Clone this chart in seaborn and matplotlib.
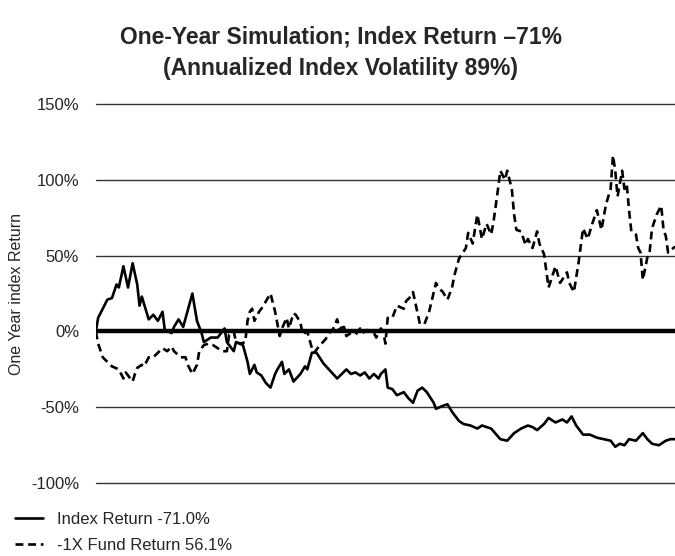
import pandas as pd
import matplotlib.pyplot as plt
import seaborn as sns
from matplotlib.ticker import PercentFormatter

# trading day / cumulative return (%)
index_day = [0, 1, 3, 4, 5, 7, 9, 10, 12, 14, 16, 18, 19, 20, 23, 25, 27, 29, 30, 33,
             34, 36, 38, 40, 42, 44, 46, 47, 50, 53, 54, 56, 57, 60, 61, 64, 66, 67, 69, 70,
             72, 74, 76, 78, 79, 81, 82, 84, 86, 89, 91, 92, 94, 96, 99, 102, 105, 107, 109, 111,
             113, 115, 117, 119, 121, 123, 124, 126, 127, 129, 131, 134, 136, 138, 140, 142, 144, 147, 148, 151,
             153, 155, 157, 158, 160, 163, 166, 168, 172, 176, 179, 182, 185, 188, 190, 192, 195, 197, 200, 203,
             205, 207, 209, 212, 215, 218, 221, 224, 226, 228, 230, 232, 235, 238, 240, 242, 245, 248, 250, 252]
index_ret = [0, 9, 15, 18, 21, 22, 31, 29, 43, 29, 45, 31, 17, 23, 8, 11, 7, 13, 1, -1,
             3, 8, 3, 14, 25, 7, -1, -7, -4, -4, -2, 2, -7, -13, -7, -9, -20, -28, -22, -27,
             -29, -34, -37, -28, -25, -20, -28, -25, -33, -28, -23, -25, -14, -14, -21, -26, -31, -28, -25, -28,
             -27, -29, -27, -31, -28, -31, -28, -25, -37, -38, -42, -40, -44, -47, -39, -37, -40, -47, -51, -49,
             -48, -53, -57, -59, -61, -62, -64, -62, -64, -71, -72, -67, -64, -62, -63, -65, -61, -57, -60, -58,
             -60, -56, -62, -68, -68, -70, -71, -72, -76, -74, -75, -71, -72, -67, -71, -74, -75, -72, -71, -71]

fund_day = [0, 1, 3, 5, 7, 10, 12, 13, 16, 17, 18, 20, 21, 23, 25, 27, 29, 31, 33, 34,
            37, 39, 40, 42, 44, 45, 47, 49, 51, 53, 55, 57, 58, 60, 61, 63, 65, 66, 67, 68,
            69, 71, 73, 74, 76, 78, 80, 81, 83, 84, 86, 87, 89, 90, 92, 94, 95, 97, 100, 102,
            103, 105, 106, 108, 109, 111, 113, 115, 116, 118, 121, 122, 124, 125, 126, 127, 129, 131, 134, 135,
            137, 138, 140, 141, 143, 145, 148, 149, 151, 153, 155, 156, 158, 161, 162, 164, 165, 166, 168, 170,
            172, 173, 175, 176, 178, 179, 181, 182, 183, 185, 187, 188, 190, 192, 193, 195, 197, 200, 202, 205,
            206, 208, 210, 212, 214, 216, 218, 220, 222, 224, 225, 226, 227, 229, 230, 231, 232, 233, 235, 236,
            237, 238, 240, 241, 242, 244, 246, 247, 248, 249, 252]
fund_ret = [0, -8, -17, -20, -23, -25, -31, -27, -33, -28, -24, -22, -23, -17, -17, -14, -11, -13, -10, -13,
            -17, -17, -22, -28, -22, -13, -9, -8, -9, -11, -13, -13, -2, 0, -7, -8, -7, 7, 13, 15,
            7, 13, 17, 20, 25, 13, -3, 2, 9, 2, 12, 11, 6, -2, 0, -11, -14, -10, -5, 0,
            1, 8, 2, 3, -3, -1, -2, 2, -1, 1, -1, -4, 2, 0, -8, 9, 9, 17, 15, 20,
            23, 26, 12, 5, 5, 13, 32, 29, 26, 21, 29, 37, 48, 55, 65, 58, 68, 77, 61, 71,
            64, 72, 94, 106, 100, 106, 94, 77, 67, 66, 57, 61, 55, 66, 58, 51, 29, 43, 32, 39,
            32, 26, 45, 68, 61, 71, 80, 67, 84, 94, 116, 106, 89, 106, 94, 97, 80, 66, 64, 55,
            52, 34, 49, 53, 68, 77, 83, 67, 63, 52, 56]

index_label = "Index Return -71.0%"
fund_label = "-1X Fund Return 56.1%"
y_ticks = [-100, -50, 0, 50, 100, 150]

index_df = pd.DataFrame({"day": index_day, "ret": index_ret})
fund_df = pd.DataFrame({"day": fund_day, "ret": fund_ret})

sns.set_style("white")
plt.rcParams["font.family"] = ["Liberation Sans", "DejaVu Sans"]
plt.rcParams["axes.unicode_minus"] = False

fig = plt.figure(figsize=(6.75, 5.56), dpi=100)
ax = fig.add_axes([0.142, 0.131, 0.858, 0.682])

ax.axhline(0, color="black", lw=3.2, zorder=1)
sns.lineplot(data=index_df, x="day", y="ret", ax=ax, color="black", lw=1.9,
             label=index_label, zorder=3)
sns.lineplot(data=fund_df, x="day", y="ret", ax=ax, color="black", lw=1.9,
             linestyle=(0, (3, 1.8)), label=fund_label, zorder=3)

ax.set_xlim(0, 252)
ax.set_ylim(-100, 150)
ax.set_yticks(y_ticks)
ax.yaxis.set_major_formatter(PercentFormatter(decimals=0))
ax.set_xticks([])
ax.set_xlabel("")
ax.set_ylabel("One Year index Return", fontsize=11.5)
ax.yaxis.set_label_coords(-0.124, 0.5)
ax.tick_params(axis="y", length=0, pad=12, labelsize=12)
ax.grid(axis="y", color="#333333", lw=1.0)
ax.grid(axis="x", visible=False)
for gl in ax.get_ygridlines():
    gl.set_clip_on(False)
for s in ax.spines.values():
    s.set_visible(False)

handles, labels = ax.get_legend_handles_labels()
ax.get_legend().remove()
fig.legend(handles, labels, loc="lower left", bbox_to_anchor=(0.0, -0.022), frameon=False,
           fontsize=12, handlelength=1.7, handletextpad=0.8, labelspacing=0.7)

fig.suptitle("One-Year Simulation; Index Return \u201371%\n(Annualized Index Volatility 89%)",
             x=0.505, y=0.955, fontsize=16.5, fontweight="bold", linespacing=1.5)

fig.savefig("out.png", dpi=100)
